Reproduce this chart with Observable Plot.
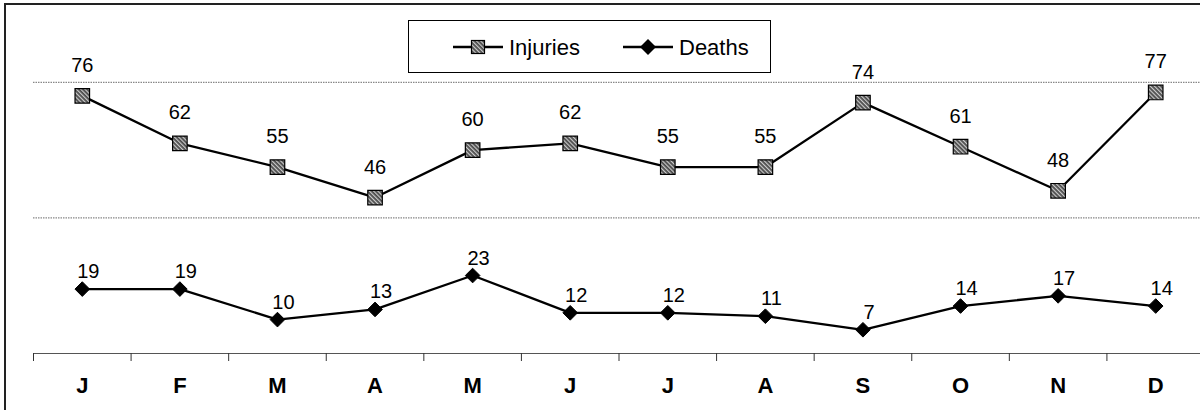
<!DOCTYPE html>
<html>
<head>
<meta charset="utf-8">
<script src="https://cdn.jsdelivr.net/npm/d3@7"></script>
<script src="https://cdn.jsdelivr.net/npm/@observablehq/plot@0.6"></script>
<style>
  html, body { margin: 0; padding: 0; background: #fff; }
  #wrap { position: relative; width: 1200px; height: 410px; overflow: hidden; font-family: "Liberation Sans", Arial, sans-serif; }
  #border { position: absolute; left: 4px; top: 3px; width: 1300px; height: 500px; border-left: 2px solid #222; border-top: 2px solid #222; pointer-events: none; }
  #legend { position: absolute; left: 408px; top: 20px; width: 361px; height: 51px; border: 1.5px solid #000; background: #fff; }
  #chart svg { overflow: visible; }
</style>
</head>
<body>
<div id="wrap">
  <div id="chart"></div>
  <div id="border"></div>
  <div id="legend"></div>
</div>
<script>
const months = ["J", "F", "M", "A", "M", "J", "J", "A", "S", "O", "N", "D"];
const injuries = [76, 62, 55, 46, 60, 62, 55, 55, 74, 61, 48, 77];
const deaths = [19, 19, 10, 13, 23, 12, 12, 11, 7, 14, 17, 14];
const gridValues = [40, 80];
const seriesNames = ["Injuries", "Deaths"];

const rows = months.map((m, i) => ({ i, m, injuries: injuries[i], deaths: deaths[i] }));
const boundaries = d3.range(months.length + 1).map(k => k - 0.5);
const font = '"Liberation Sans", Arial, sans-serif';

const chart = Plot.plot({
  width: 1200,
  height: 410,
  marginTop: 14,
  marginBottom: 57,
  marginLeft: 33,
  marginRight: 0,
  style: { fontFamily: font, background: "transparent", overflow: "visible" },
  x: { type: "linear", domain: [-0.5, months.length - 0.5], range: [33, 1204], axis: null, label: null },
  y: { domain: [0, 100], axis: null, label: null },
  marks: [
    Plot.ruleY(gridValues, { x1: -0.5, x2: months.length - 0.5, stroke: "#888", strokeWidth: 1.2, strokeDasharray: "1.5,1" }),
    Plot.ruleY([0], { x1: -0.5, x2: months.length - 0.5, stroke: "#555", strokeWidth: 1.2 }),
    Plot.axisX({ ticks: boundaries, tickSize: 8, tickFormat: () => "", label: null, stroke: "#333", strokeWidth: 1 }),
    Plot.axisX({ ticks: d3.range(months.length), tickSize: 0, tickPadding: 24, label: null, tickFormat: i => months[i], fontSize: 22, fontWeight: "bold", fill: "#000" }),
    Plot.line(rows, { x: "i", y: "injuries", stroke: "#000", strokeWidth: 2.3 }),
    Plot.line(rows, { x: "i", y: "deaths", stroke: "#000", strokeWidth: 2.3 }),
    Plot.dot(rows, { x: "i", y: "injuries", symbol: "square", r: 8.2, fill: "url(#hatch)", stroke: "#000", strokeWidth: 1.2 }),
    Plot.dot(rows, { x: "i", y: "deaths", symbol: "diamond2", r: 6.6, fill: "#000", stroke: "#000", strokeWidth: 1 }),
    Plot.text(rows, { x: "i", y: "injuries", text: d => String(d.injuries), dy: -24, lineAnchor: "bottom", fontSize: 20, fill: "#000" }),
    Plot.text(rows, { x: "i", y: "deaths", text: d => String(d.deaths), dx: 6, dy: -11, lineAnchor: "bottom", fontSize: 20, fill: "#000" })
  ]
});

// hatch pattern for the square markers
const svg = d3.select(chart);
const defs = svg.insert("defs", ":first-child");
const pat = defs.append("pattern")
  .attr("id", "hatch").attr("patternUnits", "userSpaceOnUse")
  .attr("width", 3).attr("height", 3)
  .attr("patternTransform", "rotate(-45)");
pat.append("rect").attr("width", 3).attr("height", 3).attr("fill", "#4a4a4a");
pat.append("rect").attr("width", 1.2).attr("height", 3).attr("fill", "#ccc");

document.getElementById("chart").appendChild(chart);

// legend
const lg = d3.select("#legend").append("svg").attr("width", 361).attr("height", 51);
const items = [
  { name: seriesNames[0], x0: 44, sym: "square" },
  { name: seriesNames[1], x0: 214, sym: "diamond" }
];
items.forEach(it => {
  const g = lg.append("g");
  g.append("line").attr("x1", it.x0).attr("x2", it.x0 + 50).attr("y1", 26).attr("y2", 26).attr("stroke", "#000").attr("stroke-width", 2.5);
  const cx = it.x0 + 25;
  if (it.sym === "square") {
    g.append("rect").attr("x", cx - 6.5).attr("y", 26 - 6.5).attr("width", 13).attr("height", 13).attr("fill", "url(#hatch2)").attr("stroke", "#000").attr("stroke-width", 1.2);
  } else {
    g.append("path").attr("d", `M${cx},${26 - 8}L${cx + 8},26L${cx},${26 + 8}L${cx - 8},26Z`).attr("fill", "#000");
  }
  g.append("text").attr("x", it.x0 + 56).attr("y", 34).attr("font-size", 22).attr("font-family", font).attr("fill", "#000").text(it.name);
});
const defs2 = lg.insert("defs", ":first-child");
const pat2 = defs2.append("pattern")
  .attr("id", "hatch2").attr("patternUnits", "userSpaceOnUse")
  .attr("width", 3).attr("height", 3)
  .attr("patternTransform", "rotate(-45)");
pat2.append("rect").attr("width", 3).attr("height", 3).attr("fill", "#4a4a4a");
pat2.append("rect").attr("width", 1.2).attr("height", 3).attr("fill", "#ccc");
</script>
</body>
</html>
